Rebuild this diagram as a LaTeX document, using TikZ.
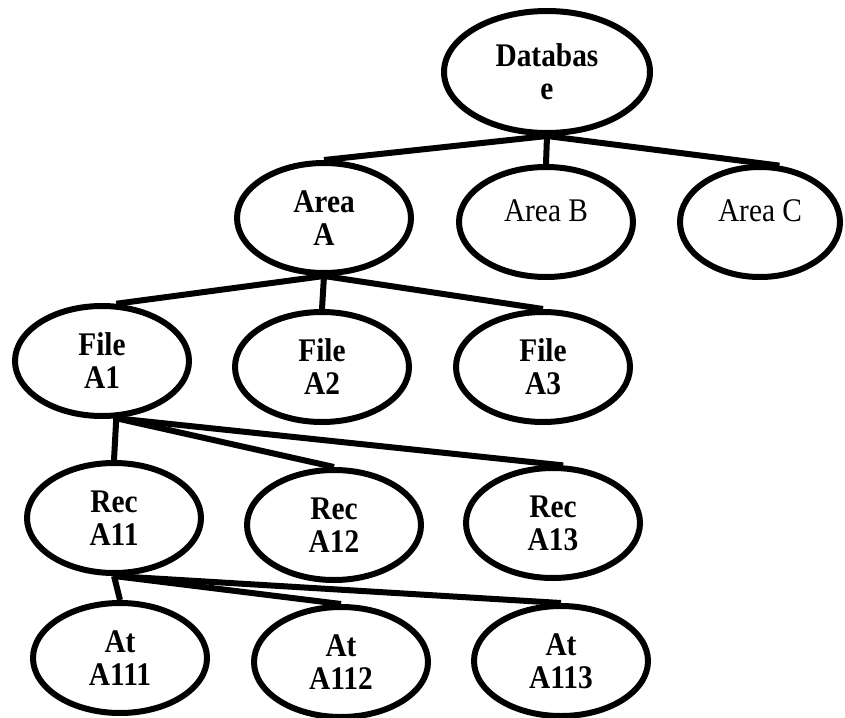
\documentclass[tikz,border=0pt]{standalone}
\usepackage{fontspec}
\setmainfont{Liberation Serif}[FakeStretch=0.89]
\usetikzlibrary{shapes.geometric}

\begin{document}
\begin{tikzpicture}[
  x=0.5pt, y=-0.5pt,
  blob/.style={draw, ellipse, line width=3pt, inner sep=0pt, align=center,
    minimum width=87pt, minimum height=55pt,
    font=\fontsize{16.5}{16.5}\selectfont\bfseries},
  plainblob/.style={blob, font=\fontsize{16.5}{16.5}\selectfont, text depth=11pt},
  link/.style={line width=3pt}
]
\useasboundingbox (0,0) rectangle (845,717);
\node[blob, minimum width=103pt, minimum height=61pt] (db) at (547,72) {Databas\\e};
\node[blob] (areaA) at (324,218) {Area\\A};
\node[plainblob] (areaB) at (546,222) {Area B};
\node[plainblob, minimum width=80pt] (areaC) at (760,222) {Area C};
\node[blob] (fileA1) at (102,361) {File\\A1};
\node[blob] (fileA2) at (322,367) {File\\A2};
\node[blob] (fileA3) at (543,367) {File\\A3};
\node[blob] (recA11) at (114,518) {Rec\\A11};
\node[blob] (recA12) at (334,525) {Rec\\A12};
\node[blob] (recA13) at (553,523) {Rec\\A13};
\node[blob] (atA111) at (120,658) {At\\A111};
\node[blob] (atA112) at (341,662) {At\\A112};
\node[blob] (atA113) at (561,661) {At\\A113};
\draw[link] (db.south) -- (areaA.north);
\draw[link] (db.south) -- (areaB.north);
\draw[link] (db.south) -- (areaC.71);
\draw[link] (areaA.south) -- (fileA1.76);
\draw[link] (areaA.south) -- (fileA2.north);
\draw[link] (areaA.south) -- (fileA3.north);
\draw[link] (fileA1.-76) -- (recA11.north);
\draw[link] (fileA1.-76) -- (recA12.north);
\draw[link] (fileA1.-76) -- (recA13.80);
\draw[link] (recA11.south) -- (atA111.north);
\draw[link] (recA11.south) -- (atA112.north);
\draw[link] (recA11.south) -- (atA113.north);
\end{tikzpicture}
\end{document}
